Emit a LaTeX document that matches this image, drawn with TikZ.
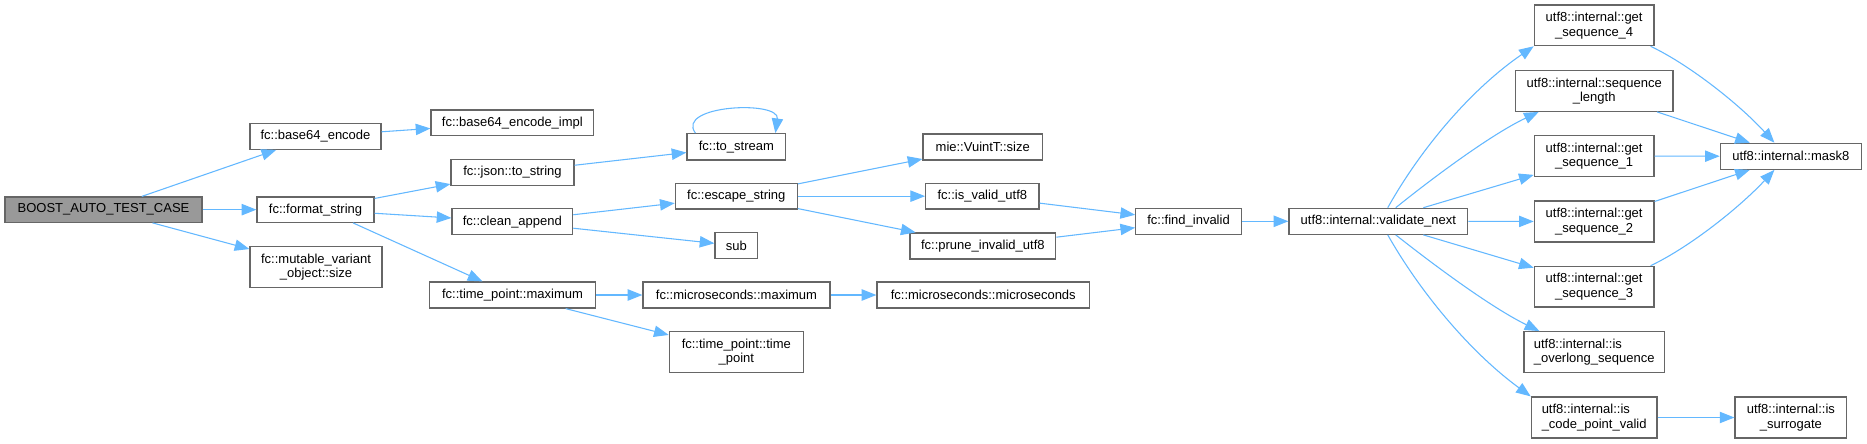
\documentclass[tikz,border=0pt]{standalone}
\usepackage{fontspec}
\setmainfont{Liberation Sans}
\usetikzlibrary{arrows.meta,calc}
\definecolor{edgec}{HTML}{63B8FF}
\definecolor{boxc}{HTML}{666666}
\definecolor{rootc}{HTML}{999999}
\tikzset{
 box/.style={draw=boxc, line width=0.9pt, inner sep=0pt, font=\fontsize{9.75pt}{11pt}\selectfont, align=center, fill=white},
 lbox/.style={box, align=left},
 rootbox/.style={box, fill=rootc},
 bb/.style n args={4}{minimum width={(#3-#1)*0.75pt}, minimum height={(#4-#2)*0.75pt}, at={({(#1+#3)/2},{(#2+#4)/2})}},
 edge/.style={draw=edgec, line width=0.8pt, -{Triangle[length=11pt,width=8.5pt]}},
}
\begin{document}
\begin{tikzpicture}[x=0.75pt,y=-0.75pt]
\fill[white] (0,0) rectangle (1867,443);
\useasboundingbox (0,0) rectangle (1867,443);
% nodes
\node[rootbox, bb={5}{197}{202}{222.3}] (boost) {BOOST\_AUTO\_TEST\_CASE};
\node[box, bb={250}{123.3}{381}{149.3}] (b64) {fc::base64\_encode};
\node[box, bb={257}{197}{374}{222.3}] (fmt) {fc::format\_string};
\node[box, bb={250}{246.7}{382}{287.3}] (mvo) {fc::mutable\_variant\\\_object::size};
\node[box, bb={431}{110}{593.7}{135.7}] (b64impl) {fc::base64\_encode\_impl};
\node[box, bb={451}{159.3}{574}{185.3}] (json) {fc::json::to\_string};
\node[box, bb={452}{208.7}{572.7}{234.7}] (clean) {fc::clean\_append};
\node[box, bb={429.7}{282}{595.3}{308}] (tpmax) {fc::time\_point::maximum};
\node[box, bb={687}{133.7}{785.7}{160}] (stream) {fc::to\_stream};
\node[box, bb={675.3}{183.3}{797.3}{209}] (esc) {fc::escape\_string};
\node[box, bb={715}{232.7}{757.7}{258.7}] (sub) {sub};
\node[box, bb={643}{282}{830}{308}] (usmax) {fc::microseconds::maximum};
\node[box, bb={669.3}{331.7}{803.3}{372.7}] (tptp) {fc::time\_point::time\\\_point};
\node[box, bb={877}{282}{1089.5}{308}] (usus) {fc::microseconds::microseconds};
\node[box, bb={923}{134}{1042.5}{160}] (mie) {mie::VuintT::size};
\node[box, bb={925.7}{183.3}{1039}{209}] (isvalid) {fc::is\_valid\_utf8};
\node[box, bb={910}{233}{1055.7}{259}] (prune) {fc::prune\_invalid\_utf8};
\node[box, bb={1135.7}{208.3}{1241.4}{234.3}] (find) {fc::find\_invalid};
\node[box, bb={1289}{208.3}{1467.7}{234.3}] (vn) {utf8::internal::validate\_next};
\node[box, bb={1534.3}{5}{1654}{45.7}] (gs4) {utf8::internal::get\\\_sequence\_4};
\node[box, bb={1515.3}{70.7}{1673}{111.3}] (slen) {utf8::internal::sequence\\\_length};
\node[box, bb={1534.3}{135.7}{1654}{176.3}] (gs1) {utf8::internal::get\\\_sequence\_1};
\node[box, bb={1534.3}{201}{1654}{242}] (gs2) {utf8::internal::get\\\_sequence\_2};
\node[box, bb={1534.3}{266.3}{1654}{307}] (gs3) {utf8::internal::get\\\_sequence\_3};
\node[lbox, bb={1524}{331.7}{1664.3}{372.7}] (over) {utf8::internal::is\\\_overlong\_sequence};
\node[lbox, bb={1531.3}{397}{1657}{438}] (cpv) {utf8::internal::is\\\_code\_point\_valid};
\node[box, bb={1735}{397}{1846.7}{438}] (surr) {utf8::internal::is\\\_surrogate};
\node[box, bb={1720.3}{143.3}{1861.3}{169.3}] (mask8) {utf8::internal::mask8};
% edges
\draw[edge] (boost) -- (b64);
\draw[edge] (boost) -- (fmt);
\draw[edge] (boost) -- (mvo);
\draw[edge] (b64) -- (b64impl);
\draw[edge] (fmt) -- (json);
\draw[edge] (fmt) -- (clean);
\draw[edge] ($(fmt.south)+(37.5,0)$) -- (tpmax);
\draw[edge] (json) -- (stream);
\draw[edge] ($(stream.north west)+(9,0)$) .. controls (675,105) and (780,100) .. ($(stream.north west)+(89,0)$);
\draw[edge] (clean) -- (esc);
\draw[edge] (clean) -- (sub);
\draw[edge] (tpmax) -- (usmax);
\draw[edge] (tpmax) -- (tptp);
\draw[edge] (usmax) -- (usus);
\draw[edge] (esc) -- (mie);
\draw[edge] (esc) -- (isvalid);
\draw[edge] (esc) -- (prune);
\draw[edge] (isvalid) -- (find);
\draw[edge] (prune) -- (find);
\draw[edge] (find) -- (vn);
\draw[edge] ($(vn.north)+(9.4,0)$) .. controls (1420,150) and (1470,90) .. (gs4.south west);
\draw[edge] ($(vn.north)+(17.4,0)$) .. controls (1430,180) and (1490,135) .. ($(slen.south west)+(24,0)$);
\draw[edge] ($(vn.north)+(45,0)$) -- ($(gs1.south west)+(0,-2)$);
\draw[edge] (vn) -- (gs2);
\draw[edge] ($(vn.south)+(45,0)$) -- ($(gs3.north west)+(0,2)$);
\draw[edge] ($(vn.south)+(17.4,0)$) .. controls (1430,262) and (1490,307) .. ($(over.north west)+(16,0)$);
\draw[edge] ($(vn.south)+(9.4,0)$) .. controls (1420,292) and (1470,352) .. (cpv.north west);
\draw[edge] ($(gs4.south east)+(-4,0)$) .. controls (1690,65) and (1740,105) .. ($(mask8.north west)+(54.7,0)$);
\draw[edge] (slen) -- (mask8);
\draw[edge] (gs1) -- (mask8);
\draw[edge] (gs2) -- (mask8);
\draw[edge] ($(gs3.north east)+(-4,0)$) .. controls (1690,247) and (1740,207) .. ($(mask8.south west)+(54.7,0)$);
\draw[edge] (cpv) -- (surr);
\end{tikzpicture}
\end{document}
